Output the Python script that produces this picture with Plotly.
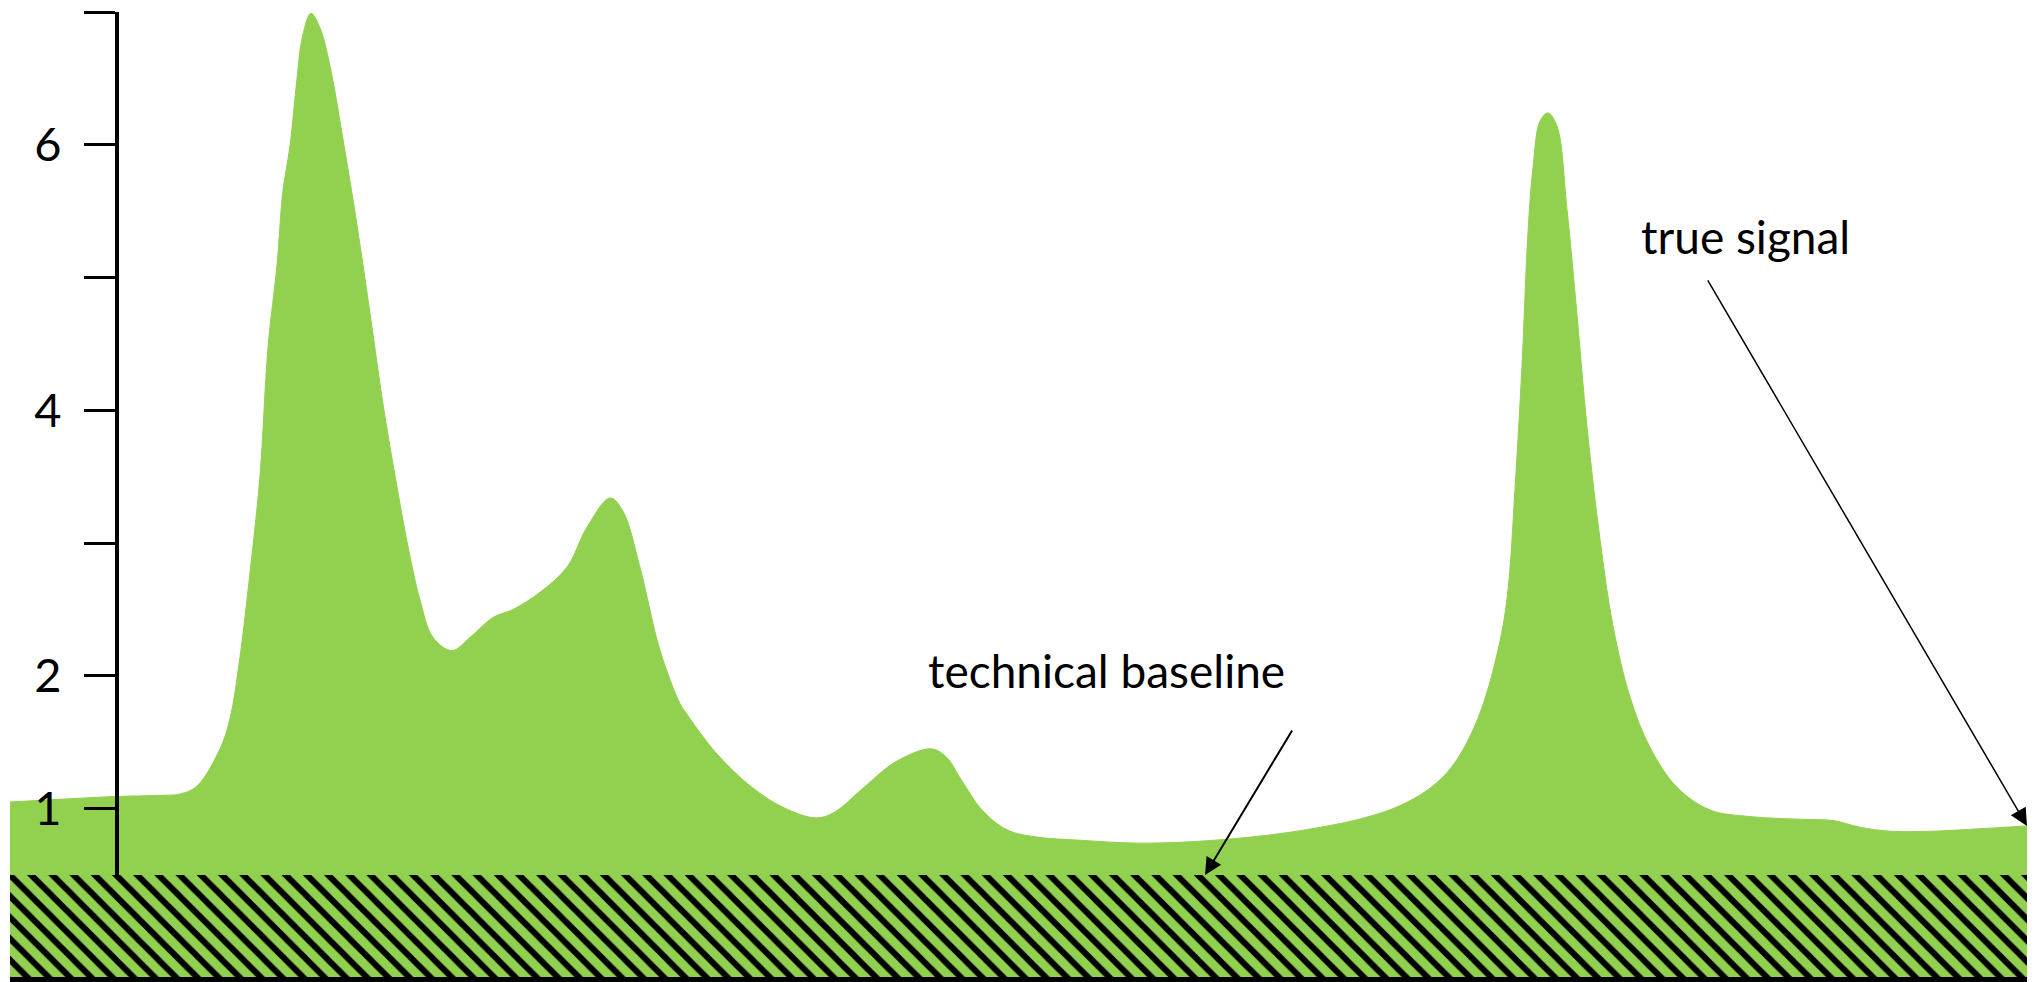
import plotly.graph_objects as go

# Signal trace (arbitrary time units, intensity units)
time = [0, 2.48, 4.96, 7.44, 8.43, 9.27, 10.41, 10.91, 11.40, 11.90, 12.39, 12.79,
        13.24, 13.53, 13.88, 14.23, 14.48, 14.92, 15.37, 15.87, 16.51, 17.20, 17.85,
        18.49, 19.19, 19.83, 20.33, 20.97, 21.91, 22.81, 23.95, 24.94, 26.28, 27.62,
        28.61, 29.75, 30.39, 31.23, 32.23, 33.22, 33.52, 35.00, 36.79, 38.32, 39.96,
        40.85, 42.34, 43.88, 45.66, 46.41, 47.15, 48.19, 49.43, 50.72, 53.25, 56.02,
        59.54, 63.36, 67.13, 69.16, 70.70, 71.74, 72.88, 73.87, 74.27, 74.62, 74.96,
        75.26, 75.51, 75.86, 76.25, 76.70, 77.19, 77.69, 78.19, 78.83, 79.47, 80.32,
        81.31, 82.65, 84.28, 86.27, 88.75, 90.38, 91.72, 93.21, 95.34, 97.82, 100.0]
signal = [1.05, 1.07, 1.09, 1.10, 1.11, 1.17, 1.45, 1.68, 2.14, 2.78, 3.50, 4.47,
          5.10, 5.65, 5.99, 6.50, 6.80, 6.99, 6.88, 6.59, 6.04, 5.40, 4.73,
          4.05, 3.42, 2.90, 2.57, 2.29, 2.19, 2.29, 2.44, 2.50, 2.63, 2.82,
          3.12, 3.34, 3.24, 2.82, 2.19, 1.79, 1.72, 1.42, 1.16, 1.01, 0.93,
          0.97, 1.16, 1.35, 1.45, 1.39, 1.22, 0.99, 0.84, 0.79, 0.76, 0.74,
          0.76, 0.82, 0.93, 1.04, 1.19, 1.37, 1.72, 2.26, 2.65, 3.42, 4.33,
          5.34, 5.83, 6.18, 6.24, 6.14, 5.52, 4.72, 3.87, 3.03, 2.38, 1.84,
          1.46, 1.16, 0.99, 0.94, 0.92, 0.91, 0.86, 0.83, 0.83, 0.85, 0.87]

baseline_level = 0.5
tick_values = [1, 2, 3, 4, 5, 6, 7]
tick_labels = ["1", "2", "", "4", "", "6", ""]

GREEN = "#92D050"
FONT = "Lato"

fig = go.Figure()

# flat technical baseline, then the signal filled down to it
fig.add_trace(go.Scatter(x=[time[0], time[-1]], y=[baseline_level, baseline_level],
                         mode="lines", line=dict(width=0), showlegend=False,
                         hoverinfo="skip"))
fig.add_trace(go.Scatter(x=time, y=signal, mode="lines", fill="tonexty",
                         fillcolor=GREEN, line=dict(color=GREEN, width=1,
                                                    shape="spline", smoothing=1.0),
                         showlegend=False))

# hatched band underneath the axis
fig.add_trace(go.Bar(x=[50], y=[1], base=[0], width=[100], xaxis="x2", yaxis="y2",
                     marker=dict(color=GREEN, line=dict(width=0),
                                 pattern=dict(shape="\\", fgcolor="black",
                                              bgcolor=GREEN, size=15,
                                              solidity=0.4, fillmode="replace")),
                     showlegend=False, hoverinfo="skip"))

W, H = 2044, 982
x_dom = [10 / W, 2027 / W]

fig.update_layout(
    width=W, height=H,
    margin=dict(l=0, r=0, t=0, b=0),
    paper_bgcolor="white", plot_bgcolor="rgba(0,0,0,0)",
    font=dict(family=FONT, color="black"),
    showlegend=False,
    xaxis=dict(domain=x_dom, range=[0, 100], showline=True, linewidth=4,
               linecolor="black", showticklabels=False, ticks="",
               showgrid=False, zeroline=False, anchor="y"),
    yaxis=dict(domain=[107 / H, 970 / H], range=[0.5, 7.0], anchor="free",
               position=117 / W, showline=True, linewidth=4, linecolor="black",
               ticks="outside", ticklen=31, tickwidth=3, tickcolor="black",
               tickvals=tick_values, ticktext=tick_labels,
               tickfont=dict(size=47, family=FONT, color="black"),
               ticklabelstandoff=13, showgrid=False, zeroline=False),
    xaxis2=dict(domain=x_dom, range=[0, 100], anchor="y2", showline=True,
                linewidth=5, linecolor="black", showticklabels=False, ticks="",
                showgrid=False, zeroline=False),
    yaxis2=dict(domain=[5 / H, 107 / H], range=[0, 1], anchor="x2",
                showline=False, showticklabels=False, ticks="",
                showgrid=False, zeroline=False),
    bargap=0,
)

fig.add_annotation(x=54.34, y=2.04, xref="x", yref="y", text="technical baseline",
                   showarrow=False, xanchor="center", yanchor="middle",
                   font=dict(size=46, family=FONT, color="black"))
fig.add_annotation(x=86.02, y=5.31, xref="x", yref="y", text="true signal",
                   showarrow=False, xanchor="center", yanchor="middle",
                   font=dict(size=46, family=FONT, color="black"))

# arrows
fig.add_annotation(x=59.25, y=baseline_level, ax=63.61, ay=1.60,
                   xref="x", yref="y", axref="x", ayref="y", text="",
                   showarrow=True, arrowhead=2, arrowwidth=2, arrowsize=1.7,
                   arrowcolor="black", standoff=0)
fig.add_annotation(x=time[-1], y=signal[-1], ax=84.13, ay=4.99,
                   xref="x", yref="y", axref="x", ayref="y", text="",
                   showarrow=True, arrowhead=2, arrowwidth=1.5, arrowsize=2.3,
                   arrowcolor="black", standoff=0)

fig.write_html("out.html")
